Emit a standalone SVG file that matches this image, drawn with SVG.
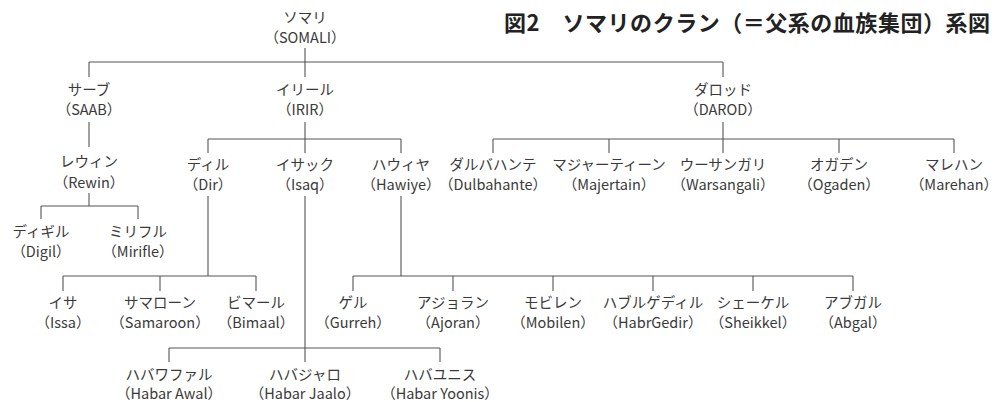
<svg xmlns="http://www.w3.org/2000/svg" width="1000" height="402" viewBox="0 0 1000 402">
<style>
.t{font-family:"Noto Sans CJK JP","Noto Sans",sans-serif;font-size:14.5px;fill:#3a3a3a;text-anchor:middle}
.title{font-family:"Noto Sans CJK JP","Noto Sans",sans-serif;font-size:22px;font-weight:bold;fill:#222}
.c{stroke:#555;stroke-width:1.1;fill:none}
</style>
<rect width="1000" height="402" fill="#fff"/>
<text class="title" x="504" y="31" textLength="486" lengthAdjust="spacing">図2　ソマリのクラン（＝父系の血族集団）系図</text>
<g id="connectors" class="c">
<path d="M305 48V77M89 62H723M89 62V77M723 62V77"/>
<path d="M89 122V147M89 193V206M41 206H138M41 206V219M138 206V219"/>
<path d="M305 122V153M208 139H401M208 139V153M401 139V153"/>
<path d="M723 122V153M493 139H954M493 139V153M609 139V153M839 139V153M954 139V153"/>
<path d="M208 196V276M63 276H256M63 276V291M160 276V291M256 276V291"/>
<path d="M305 196V362M169 348H440M169 348V362M440 348V362"/>
<path d="M401 196V276M353 276H853M353 276V291M453 276V291M553 276V291M653 276V291M753 276V291M853 276V291"/>
</g>
<g id="somali"><text class="t" x="305" y="23">ソマリ</text><text class="t" x="305" y="43">（SOMALI）</text></g>
<g id="saab"><text class="t" x="89" y="95">サーブ</text><text class="t" x="89" y="115">（SAAB）</text></g>
<g id="irir"><text class="t" x="305" y="95">イリール</text><text class="t" x="305" y="115">（IRIR）</text></g>
<g id="darod"><text class="t" x="723" y="95">ダロッド</text><text class="t" x="723" y="115">（DAROD）</text></g>
<g id="rewin"><text class="t" x="89" y="167">レウィン</text><text class="t" x="89" y="188">（Rewin）</text></g>
<g id="digil"><text class="t" x="41" y="237">ディギル</text><text class="t" x="41" y="257">（Digil）</text></g>
<g id="mirifle"><text class="t" x="138" y="237">ミリフル</text><text class="t" x="138" y="257">（Mirifle）</text></g>
<g id="dir"><text class="t" x="208" y="170">ディル</text><text class="t" x="208" y="190">（Dir）</text></g>
<g id="isaq"><text class="t" x="305" y="170">イサック</text><text class="t" x="305" y="190">（Isaq）</text></g>
<g id="hawiye"><text class="t" x="401" y="170">ハウィヤ</text><text class="t" x="401" y="190">（Hawiye）</text></g>
<g id="dulbahante"><text class="t" x="493" y="170">ダルバハンテ</text><text class="t" x="493" y="190">（Dulbahante）</text></g>
<g id="majertain"><text class="t" x="609" y="170">マジャーティーン</text><text class="t" x="609" y="190">（Majertain）</text></g>
<g id="warsangali"><text class="t" x="723" y="170">ウーサンガリ</text><text class="t" x="723" y="190">（Warsangali）</text></g>
<g id="ogaden"><text class="t" x="839" y="170">オガデン</text><text class="t" x="839" y="190">（Ogaden）</text></g>
<g id="marehan"><text class="t" x="954" y="170">マレハン</text><text class="t" x="954" y="190">（Marehan）</text></g>
<g id="issa"><text class="t" x="63" y="308">イサ</text><text class="t" x="63" y="328">（Issa）</text></g>
<g id="samaroon"><text class="t" x="160" y="308">サマローン</text><text class="t" x="160" y="328">（Samaroon）</text></g>
<g id="bimaal"><text class="t" x="256" y="308">ビマール</text><text class="t" x="256" y="328">（Bimaal）</text></g>
<g id="gurreh"><text class="t" x="353" y="308">ゲル</text><text class="t" x="353" y="328">（Gurreh）</text></g>
<g id="ajoran"><text class="t" x="453" y="308">アジョラン</text><text class="t" x="453" y="328">（Ajoran）</text></g>
<g id="mobilen"><text class="t" x="553" y="308">モビレン</text><text class="t" x="553" y="328">（Mobilen）</text></g>
<g id="habrgedir"><text class="t" x="653" y="308">ハブルゲディル</text><text class="t" x="653" y="328">（HabrGedir）</text></g>
<g id="sheikkel"><text class="t" x="753" y="308">シェーケル</text><text class="t" x="753" y="328">（Sheikkel）</text></g>
<g id="abgal"><text class="t" x="853" y="308">アブガル</text><text class="t" x="853" y="328">（Abgal）</text></g>
<g id="habar-awal"><text class="t" x="169" y="380">ハバワファル</text><text class="t" x="169" y="399">（Habar Awal）</text></g>
<g id="habar-jaalo"><text class="t" x="305" y="380">ハバジャロ</text><text class="t" x="305" y="399">（Habar Jaalo）</text></g>
<g id="habar-yoonis"><text class="t" x="440" y="380">ハバユニス</text><text class="t" x="440" y="399">（Habar Yoonis）</text></g>
</svg>
